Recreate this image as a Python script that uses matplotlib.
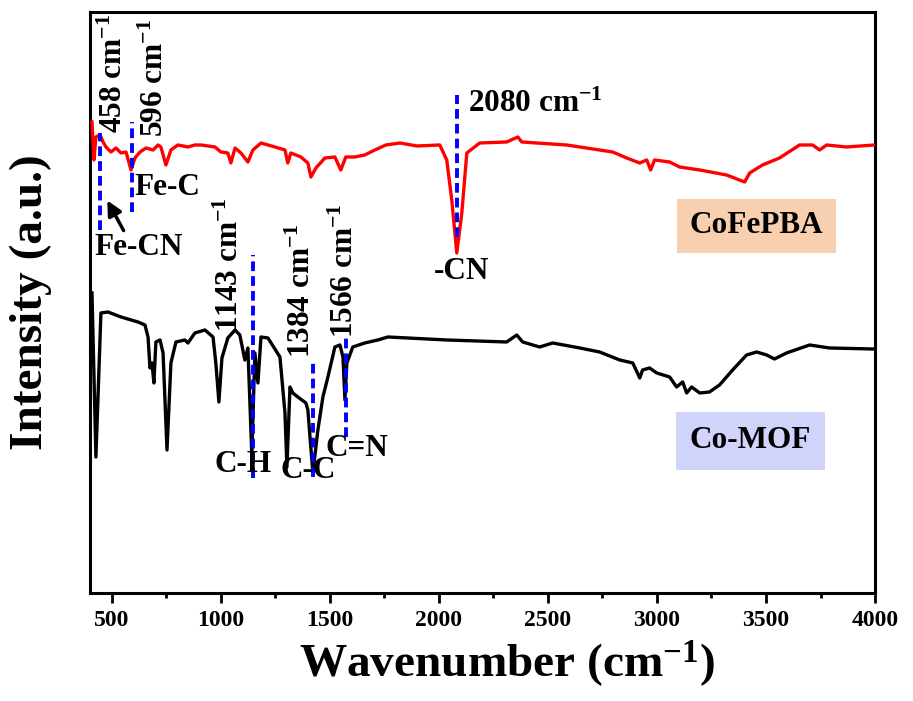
import numpy as np
import matplotlib
matplotlib.use('Agg')
import matplotlib.pyplot as plt

plt.rcParams['font.family'] = ['Liberation Serif', 'DejaVu Serif']
plt.rcParams['font.weight'] = 'bold'
plt.rcParams['mathtext.fontset'] = 'custom'
plt.rcParams['mathtext.rm'] = 'Liberation Serif:bold'
plt.rcParams['mathtext.bf'] = 'Liberation Serif:bold'
plt.rcParams['mathtext.it'] = 'Liberation Serif:bold'

# CoFePBA spectrum (offset, a.u.)
pba_wn = [409, 418, 427, 446, 460, 473, 496, 519, 542, 565, 588, 606, 629, 657, 689, 712, 725, 748,
          771, 803, 849, 881, 909, 973, 1000, 1032, 1046, 1065, 1092, 1124, 1147, 1184, 1248, 1294,
          1307, 1321, 1367, 1399, 1413, 1436, 1477, 1523, 1550, 1573, 1614, 1660, 1706, 1757, 1821,
          1900, 2004, 2036, 2059, 2082, 2105, 2128, 2187, 2311, 2362, 2380, 2586, 2797, 2861, 2921,
          2953, 2971, 2989, 3058, 3104, 3196, 3319, 3402, 3425, 3484, 3562, 3654, 3714, 3746, 3778,
          3869, 3998]
pba_int = [478, 440, 463, 465, 458, 453, 448, 452, 447, 448, 430, 442, 448, 452, 450, 455, 453, 435,
           450, 455, 453, 455, 455, 453, 448, 447, 437, 452, 447, 438, 450, 457, 453, 450,
           437, 447, 443, 437, 423, 432, 442, 443, 430, 443, 443, 445, 450, 455, 457,
           454, 455, 440, 400, 347, 387, 447, 457, 458, 463, 458, 455, 448, 442, 437,
           440, 430, 440, 438, 433, 430, 425, 418, 427, 435, 442, 455, 455, 450, 455,
           453, 455]

# Co-MOF spectrum (a.u.)
mof_wn = [409, 427, 450, 482, 542, 620, 652, 666, 675, 684, 693, 702, 721, 735, 753, 771, 794, 835,
          849, 881, 927, 964, 977, 991, 1005, 1032, 1065, 1087, 1110, 1124, 1142, 1156, 1170, 1184,
          1216, 1271, 1294, 1303, 1317, 1330, 1353, 1390, 1399, 1422, 1445, 1468, 1491, 1523, 1546,
          1560, 1569, 1578, 1605, 1660, 1720, 1766, 2036, 2311, 2357, 2384, 2462, 2522, 2646, 2737,
          2829, 2889, 2921, 2934, 2966, 2999, 3058, 3090, 3118, 3136, 3159, 3196, 3241, 3287, 3347,
          3411, 3457, 3503, 3539, 3594, 3700, 3791, 3988]
mof_int = [307, 143, 287, 288, 283, 278, 275, 263, 232, 237, 217, 258, 260, 247, 150, 237, 258, 260,
           257, 267, 270, 263, 237, 198, 242, 262, 270, 265, 240, 252, 145, 247, 217, 263,
           262, 243, 187, 133, 213, 207, 203, 197, 190, 127, 170, 203, 223, 253, 255,
           243, 200, 237, 253, 257, 260, 263, 260, 258, 265, 258, 253, 257, 252, 248,
           240, 237, 222, 230, 232, 227, 223, 213, 218, 207, 213, 207, 208, 215, 230,
           245, 248, 245, 241, 247, 255, 252, 251]

# peak markers: (wavenumber, y from, y to)
peak_lines = [(446, 370, 467), (592, 388, 478), (1147, 122, 345), (1422, 123, 237),
              (1573, 163, 263), (2082, 363, 505)]
# rotated peak labels: (text, x centre, y bottom)
peak_labels = [('458', 510, 467), ('596', 698, 463), ('1143', 1042, 268),
               ('1384', 1372, 242), ('1566', 1569, 262)]
# bond labels: (text, x, y)
bond_labels = [('Fe-C', 757, 412), ('Fe-CN', 625, 352), ('C-H', 1101, 135),
               ('C-C', 1400, 129), ('C=N', 1625, 151), ('-CN', 2105, 328)]

fig = plt.figure(figsize=(9.13, 7.01), dpi=100)
ax = fig.add_axes([0.0986, 0.1541, 0.9584 - 0.0986, 0.9829 - 0.1541])

ax.plot(pba_wn, pba_int, color='#ff0000', lw=2.4, zorder=3)
ax.plot(mof_wn, mof_int, color='black', lw=2.4, zorder=3)

for wn, y0, y1 in peak_lines:
    ax.plot([wn, wn], [y0, y1], color='#0000ff', lw=2.8, ls=(0, (2.5, 1.3)), zorder=4)

for t, x, y in peak_labels:
    ax.text(x, y, t + r' cm$^{-1}$', rotation=90, ha='center', va='bottom',
            fontsize=22.5, fontweight='bold', zorder=5)
ax.text(2132, 496, r'2080 cm$^{-1}$', ha='left', va='center', fontsize=22.5, fontweight='bold')

for t, x, y in bond_labels:
    ax.text(x, y, t, ha='center', va='center', fontsize=22.5, fontweight='bold', zorder=5)

ax.annotate('', xy=(473, 402), xytext=(560, 367),
            arrowprops=dict(arrowstyle='-|>', color='black', lw=2.5, mutation_scale=22))

ax.text(3457, 374, 'CoFePBA', ha='center', va='center', fontsize=22.5, fontweight='bold',
        bbox=dict(boxstyle='square,pad=0.4', fc='#f8d0b0', ec='none'))
ax.text(3429, 159, 'Co-MOF', ha='center', va='center', fontsize=22.5, fontweight='bold',
        bbox=dict(boxstyle='square,pad=0.45', fc='#d0d4fa', ec='none'))

ax.set_xlim(400, 4000)
ax.set_ylim(7, 588)
ax.set_xticks(np.arange(500, 4001, 500))
ax.set_xticks(np.arange(750, 4000, 500), minor=True)
ax.set_yticks([])
ax.tick_params(axis='x', which='major', direction='out', length=7, width=2, labelsize=17, pad=5)
ax.tick_params(axis='x', which='minor', direction='out', length=3.5, width=2)
for lab in ax.get_xticklabels():
    lab.set_fontweight('bold')
for sp in ax.spines.values():
    sp.set_linewidth(2.2)

ax.set_xlabel(r'Wavenumber (cm$^{-1}$)', fontsize=34, fontweight='bold')
ax.set_ylabel('Intensity (a.u.)', fontsize=34, fontweight='bold')
ax.xaxis.set_label_coords(0.531, -0.078)
ax.yaxis.set_label_coords(-0.048, 0.5)

fig.savefig('out.png', dpi=100)
